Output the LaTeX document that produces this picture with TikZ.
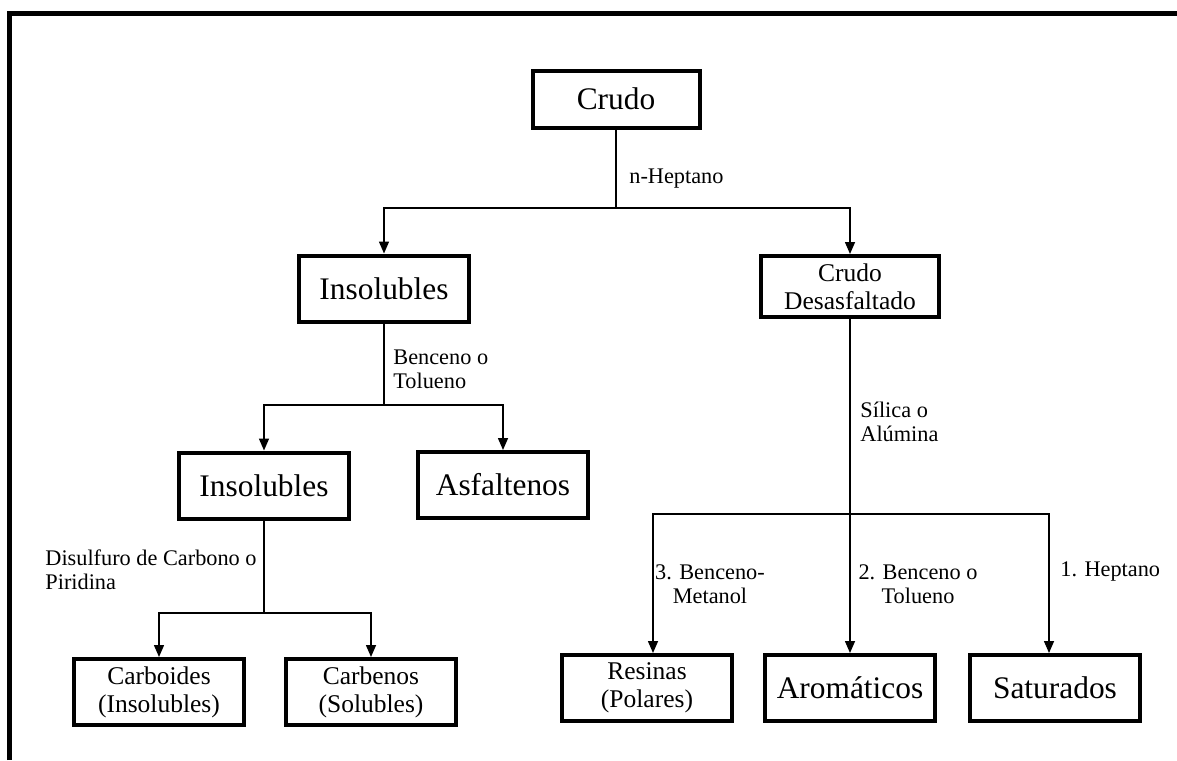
\documentclass[tikz,border=0pt]{standalone}
\usepackage{fontspec}
\setmainfont{Liberation Serif}
\usetikzlibrary{arrows.meta}

\begin{document}
\begin{tikzpicture}[x=0.5pt,y=-0.5pt]
        \tikzset{caja/.style={draw,line width=2pt,inner sep=0pt,align=center,
                minimum width=85pt,minimum height=33pt},
            grande/.style={font=\fontsize{15.7}{18}\selectfont},
            media/.style={font=\fontsize{12.75}{14}\selectfont},
            rotulo/.style={font=\fontsize{11.15}{12}\selectfont,inner sep=0pt},
            linea/.style={line width=0.75pt},
            flecha/.style={linea,-{Triangle[length=6pt,width=5pt]}}}
        \useasboundingbox (0,0) rectangle (1177,760);
        \draw[line width=2.5pt] (9.5,760) -- (9.5,13) -- (1177,13);
        \node[caja,grande,minimum width=83.5pt,minimum height=28.5pt] (crudo) at (616,99) {Crudo};
        \node[caja,grande] (insol) at (384,288.5) {Insolubles};
        \node[caja,media,minimum width=89pt,minimum height=30.5pt] (desasf) at (850,286.5) {Crudo\\Desasfaltado};
        \node[caja,grande] (insoldos) at (264,485.5) {Insolubles};
        \node[caja,grande] (asfalt) at (503,485) {Asfaltenos};
        \node[caja,media] (carboides) at (159,692) {Carboides\\(Insolubles)};
        \node[caja,media] (carbenos) at (371,692) {Carbenos\\(Solubles)};
        \node[caja,media] (resinas) at (647,688) {Resinas\\(Polares)};
        \node[caja,grande] (aromat) at (850,688) {Arom\'aticos};
        \node[caja,grande] (saturados) at (1055,688) {Saturados};
        \coordinate (r1) at (616,208);
        \coordinate (r2) at (384,405);
        \coordinate (r3) at (264,613);
        \coordinate (r4) at (850,514);
        \draw[linea] (crudo) -- (r1);
        \draw[flecha] (r1) -| (insol);
        \draw[flecha] (r1) -| (desasf);
        \draw[linea] (insol) -- (r2);
        \draw[flecha] (r2) -| (insoldos);
        \draw[flecha] (r2) -| (asfalt);
        \draw[linea] (insoldos) -- (r3);
        \draw[flecha] (r3) -| (carboides);
        \draw[flecha] (r3) -| (carbenos);
        \draw[linea] (desasf) -- (r4);
        \draw[flecha] (r4) -| ([xshift=3pt]resinas.north);
        \draw[flecha] (r4) -- (aromat);
        \draw[flecha] (r4) -| ([xshift=-3pt]saturados.north);
        \node[rotulo,anchor=west] (nhep) at (629,179) {n-Heptano};
        \node[rotulo,anchor=west,align=left] (bentol) at (393,369) {Benceno o\\Tolueno};
        \node[rotulo,anchor=east,align=left] (disul) at (257,570) {Disulfuro de Carbono o\\Piridina};
        \node[rotulo,anchor=west,align=left] (silica) at (860,422) {S\'ilica o\\Al\'umina};
        \node[rotulo,align=center] (metanol) at (710,584) {3. Benceno-\\Metanol};
        \node[rotulo,align=center] (tolueno) at (918,584) {2. Benceno o\\Tolueno};
        \node[rotulo,anchor=west] (heptano) at (1060,572) {1. Heptano};
\end{tikzpicture}
\end{document}
